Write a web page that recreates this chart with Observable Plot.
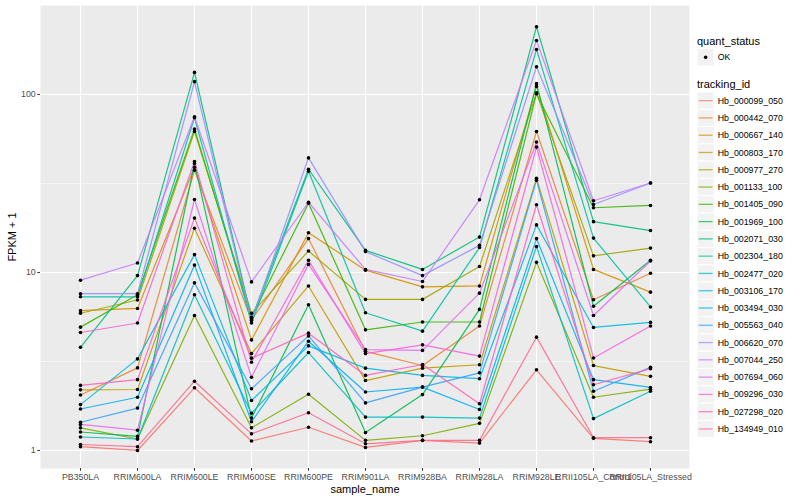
<!DOCTYPE html>
<html>
<head>
<meta charset="utf-8">
<script src="https://cdn.jsdelivr.net/npm/d3@7"></script>
<script src="https://cdn.jsdelivr.net/npm/@observablehq/plot@0.6"></script>
<style>
  body { margin: 0; background: #fff; font-family: "Liberation Sans", Arial, sans-serif; }
  #wrap { position: relative; width: 800px; height: 500px; }
  #chart { position: absolute; left: 0; top: 0; }
  #chart svg { overflow: visible; }
  #legend { position: absolute; left: 690px; top: 0; }
</style>
</head>
<body>
<div id="wrap"><div id="chart"></div><div id="legend"></div></div>
<script>
const samples = ["PB350LA", "RRIM600LA", "RRIM600LE", "RRIM600SE", "RRIM600PE", "RRIM901LA",
  "RRIM928BA", "RRIM928LA", "RRIM928LE", "RRII105LA_Control", "RRII105LA_Stressed"];

const trackingIds = ["Hb_000099_050", "Hb_000442_070", "Hb_000667_140", "Hb_000803_170", "Hb_000977_270",
  "Hb_001133_100", "Hb_001405_090", "Hb_001969_100", "Hb_002071_030", "Hb_002304_180",
  "Hb_002477_020", "Hb_003106_170", "Hb_003494_030", "Hb_005563_040", "Hb_006620_070",
  "Hb_007044_250", "Hb_007694_060", "Hb_009296_030", "Hb_027298_020", "Hb_134949_010"];

const trackingColors = ["#F8766D", "#EA8331", "#D89000", "#C09B00", "#A3A500", "#7CAE00", "#39B600", "#00BB4E",
  "#00BF7D", "#00C1A3", "#00BFC4", "#00BAE0", "#00B0F6", "#35A2FF", "#9590FF", "#C77CFF",
  "#E76BF3", "#FA62DB", "#FF62BC", "#FF6C91"];

// FPKM + 1, one row per tracking_id, columns follow `samples`
const fpkmPlusOne = [
  [1.05, 1.00, 2.25, 1.13, 1.35, 1.04, 1.14, 1.10, 2.84, 1.17, 1.12],
  [2.05, 2.91, 37.5, 5.4, 15.5, 3.6, 3.0, 5.0, 61.9, 7.03, 9.9],
  [6.1, 6.28, 39, 4.18, 16.7, 10.3, 8.3, 8.4, 111, 10.4, 7.75],
  [2.19, 2.2, 17.7, 3.5, 8.4, 2.47, 2.9, 3.03, 33.8, 3.0, 2.61],
  [5.9, 7.0, 62, 5.9, 13.2, 7.06, 7.06, 10.8, 102, 12.4, 13.7],
  [1.34, 1.16, 5.73, 1.34, 2.07, 1.14, 1.21, 1.42, 11.4, 1.99, 2.21],
  [4.93, 7.5, 64, 5.6, 24.5, 4.76, 5.27, 5.27, 101, 23.1, 23.8],
  [1.27, 1.2, 41, 1.52, 6.58, 1.26, 2.06, 6.2, 115, 6.46, 11.7],
  [3.8, 9.6, 133, 5.5, 38, 13.3, 10.4, 15.8, 240, 19.3, 17.2],
  [7.3, 7.3, 74, 5.2, 37, 5.94, 4.68, 13.8, 179, 15.6, 6.4],
  [1.19, 1.16, 7.5, 1.62, 3.55, 1.54, 1.54, 1.52, 14, 1.51, 2.15],
  [1.81, 3.27, 12.6, 1.91, 3.87, 2.9, 2.64, 2.53, 18.5, 4.91, 5.24],
  [1.71, 1.99, 11.0, 1.45, 4.11, 2.13, 2.27, 1.70, 15.5, 2.5, 2.26],
  [1.44, 1.73, 8.74, 2.22, 4.4, 1.85, 2.27, 2.73, 33, 2.15, 2.93],
  [7.6, 7.6, 118, 5.38, 44, 13.1, 9.6, 14.2, 143, 24.1, 31.8],
  [9.05, 11.3, 75, 8.85, 24.8, 10.4, 8.9, 25.6, 201, 25.3, 31.8],
  [1.40, 1.3, 25.7, 2.58, 11.1, 3.69, 3.65, 7.65, 54.1, 5.73, 11.6],
  [4.6, 5.2, 42, 3.13, 11.7, 3.5, 3.92, 3.39, 50.6, 3.31, 5.0],
  [2.32, 2.5, 20.2, 3.3, 4.56, 2.64, 3.04, 1.83, 24, 2.34, 2.88],
  [1.08, 1.05, 2.45, 1.24, 1.63, 1.09, 1.14, 1.14, 4.33, 1.18, 1.18]
];

const yTicks = [1, 10, 100];
const yMinor = [Math.sqrt(10), Math.sqrt(1000)];
const quantStatus = ["OK"];

const data = trackingIds.flatMap((id, i) =>
  samples.map((s, j) => ({ id, sample: s, value: fpkmPlusOne[i][j], status: quantStatus[0] })));

const chart = Plot.plot({
  width: 690, height: 500,
  marginLeft: 40, marginRight: 1, marginTop: 5, marginBottom: 32,
  style: { fontFamily: "'Liberation Sans', Arial, sans-serif", fontSize: "8.8px", background: "transparent", overflow: "visible" },
  x: { type: "point", domain: samples, padding: 0.6, label: null },
  y: { type: "log", domain: [0.792, 316], label: null },
  color: { domain: trackingIds, range: trackingColors },
  marks: [
    Plot.frame({ fill: "#EBEBEB" }),
    Plot.ruleY(yMinor, { stroke: "#fff", strokeWidth: 0.55 }),
    Plot.ruleY(yTicks, { stroke: "#fff", strokeWidth: 1.1 }),
    Plot.ruleX(samples, { stroke: "#fff", strokeWidth: 1.1 }),
    Plot.line(data, { x: "sample", y: "value", z: "id", stroke: "id", strokeWidth: 1.2, strokeOpacity: 0.9 }),
    Plot.dot(data, { x: "sample", y: "value", r: 1.8, fill: "#000" }),
    Plot.axisX({ tickSize: 2.75, tickPadding: 2, label: null, fill: "#4D4D4D", stroke: "#333" }),
    Plot.axisY({ ticks: yTicks, tickFormat: d => String(d), tickSize: 2.75, tickPadding: 2, label: null, fill: "#4D4D4D", stroke: "#333" }),
    Plot.text(["FPKM + 1"], { frameAnchor: "left", dx: -28, rotate: -90, fontSize: 11, fill: "#000", textAnchor: "middle", lineAnchor: "middle" }),
    Plot.text(["sample_name"], { frameAnchor: "bottom", dy: 21, fontSize: 11, fill: "#000", textAnchor: "middle", lineAnchor: "middle" })
  ]
});
document.getElementById("chart").appendChild(chart);

// Legend (ggplot-style), built from the same arrays
const key = 17.28;
const lg = d3.select("#legend").append("svg").attr("width", 110).attr("height", 500)
  .style("font-family", "'Liberation Sans', Arial, sans-serif");
lg.append("text").attr("x", 7).attr("y", 44.5).attr("font-size", 11).text("quant_status");
quantStatus.forEach((q, i) => {
  const g = lg.append("g").attr("transform", `translate(7,${48.7 + i * key})`);
  g.append("rect").attr("width", key).attr("height", key).attr("fill", "#F2F2F2").attr("stroke", "#fff");
  g.append("circle").attr("cx", key / 2).attr("cy", key / 2).attr("r", 1.8).attr("fill", "#000");
  g.append("text").attr("x", key + 3.5).attr("y", key / 2).attr("dy", "0.35em").attr("font-size", 8.8).text(q);
});
lg.append("text").attr("x", 7).attr("y", 88).attr("font-size", 11).text("tracking_id");
trackingIds.forEach((id, i) => {
  const g = lg.append("g").attr("transform", `translate(7,${92 + i * key})`);
  g.append("rect").attr("width", key).attr("height", key).attr("fill", "#F2F2F2").attr("stroke", "#fff");
  g.append("line").attr("x1", 1.7).attr("x2", key - 1.7).attr("y1", key / 2).attr("y2", key / 2)
    .attr("stroke", trackingColors[i]).attr("stroke-width", 1.3).attr("stroke-opacity", 0.75);
  g.append("text").attr("x", key + 3.5).attr("y", key / 2).attr("dy", "0.35em").attr("font-size", 8.8).text(id);
});
</script>
</body>
</html>
